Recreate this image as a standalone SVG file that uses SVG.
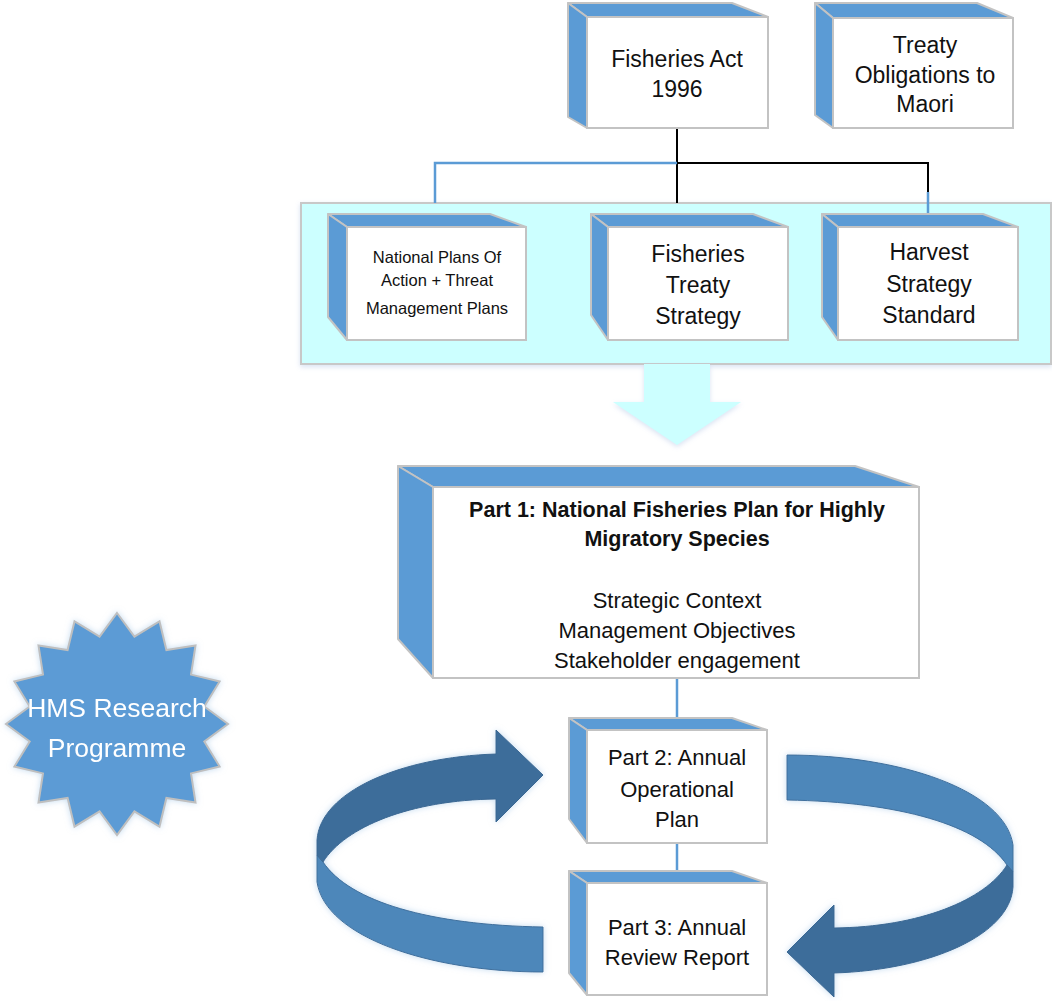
<svg xmlns="http://www.w3.org/2000/svg" xmlns:xlink="http://www.w3.org/1999/xlink" width="1052" height="1001" viewBox="0 0 1052 1001">
<style>
.side{fill:#5B9BD5;stroke:#C3C3C3;stroke-width:2;stroke-linejoin:round}
.front{fill:#FFFFFF;stroke:#C3C3C3;stroke-width:2}
.t{font-family:"Liberation Sans",Arial,sans-serif;fill:#111111;text-anchor:middle}
.s23{font-size:23px}
.s22{font-size:22px}
.s16{font-size:16.5px}
.b{font-weight:bold}
.blue{stroke:#5B9BD5;stroke-width:2.5;fill:none}
.black{stroke:#000000;stroke-width:2;fill:none}
.light{fill:#4D87BA;stroke:#3F6F9C;stroke-width:1}
.dark{fill:#3D6D9A;stroke:#3A6893;stroke-width:1}
</style>
<defs>
<filter id="glow" x="-10%" y="-10%" width="120%" height="120%">
<feGaussianBlur in="SourceAlpha" stdDeviation="3" result="b"/>
<feFlood flood-color="#9DC3E6" flood-opacity="0.6"/>
<feComposite in2="b" operator="in" result="s"/>
<feMerge><feMergeNode in="s"/><feMergeNode in="SourceGraphic"/></feMerge>
</filter>
<filter id="soft" x="-10%" y="-10%" width="120%" height="130%">
<feGaussianBlur in="SourceAlpha" stdDeviation="2.5" result="b"/>
<feOffset dy="2" in="b" result="o"/>
<feFlood flood-color="#B4C7E7" flood-opacity="0.5"/>
<feComposite in2="o" operator="in" result="s"/>
<feMerge><feMergeNode in="s"/><feMergeNode in="SourceGraphic"/></feMerge>
</filter>
<g id="curvedArrow">
<path class="light" d="M787,755 C900,755 1005,790 1013,845 L1013,872 L1007,865 C980,825 900,802 787,800 Z"/>
<path class="dark" d="M1007,865 L1013,872 L1013,887 C1010,935 930,970 834,973 L834,997 L787,952 L834,905 L834,928 C920,927 985,900 1007,865 Z"/>
</g>
</defs>

<rect width="1052" height="1001" fill="#FFFFFF"/>

<g id="band" filter="url(#soft)">
<rect x="301" y="203" width="750" height="161" fill="#CCFFFF" stroke="#C8C8C8" stroke-width="2"/>
</g>

<g id="down-arrow" filter="url(#soft)">
<polygon points="644,364 710,364 710,402 741,402 677,445 613,402 644,402" fill="#CCFFFF"/>
</g>

<g id="connectors">
<path class="black" d="M677,128 V203"/>
<path class="black" d="M677,163 H928 V192"/>
<path class="blue" d="M677,163 H435 V203"/>
<path class="blue" d="M928,192 V228"/>
<path class="blue" d="M677,678 V730"/>
<path class="blue" d="M677,843 V884"/>
</g>

<g id="fisheries-act">
<polygon class="side" points="568,3 732,3 768,17 587,17"/>
<polygon class="side" points="568,3 587,17 587,128 568,117"/>
<rect class="front" x="587" y="17" width="181" height="111"/>
<text class="t s23" x="677" y="67">Fisheries Act</text>
<text class="t s23" x="677" y="97">1996</text>
</g>

<g id="treaty-obligations">
<polygon class="side" points="815,3 977,3 1013,18 833,18"/>
<polygon class="side" points="815,3 833,18 833,128 815,115"/>
<rect class="front" x="833" y="18" width="180" height="110"/>
<text class="t s23" x="925" y="53">Treaty</text>
<text class="t s23" x="925" y="83">Obligations to</text>
<text class="t s23" x="925" y="112">Maori</text>
</g>

<g id="npoa">
<polygon class="side" points="328,214 490,214 526,227 347,227"/>
<polygon class="side" points="328,214 347,227 347,340 328,317"/>
<rect class="front" x="347" y="227" width="179" height="113"/>
<text class="t s16" x="437" y="263">National Plans Of</text>
<text class="t s16" x="437" y="286">Action + Threat</text>
<text class="t s16" x="437" y="314">Management Plans</text>
</g>

<g id="fisheries-treaty-strategy">
<polygon class="side" points="591,214 753,214 788,227 608,227"/>
<polygon class="side" points="591,214 608,227 608,340 591,315"/>
<rect class="front" x="608" y="227" width="180" height="113"/>
<text class="t s23" x="698" y="262">Fisheries</text>
<text class="t s23" x="698" y="293">Treaty</text>
<text class="t s23" x="698" y="324">Strategy</text>
</g>

<g id="harvest-strategy">
<polygon class="side" points="822,214 983,214 1018,227 838,227"/>
<polygon class="side" points="822,214 838,227 838,340 822,317"/>
<rect class="front" x="838" y="227" width="180" height="113"/>
<text class="t s23" x="929" y="260">Harvest</text>
<text class="t s23" x="929" y="292">Strategy</text>
<text class="t s23" x="929" y="323">Standard</text>
</g>

<g id="part1">
<polygon class="side" points="398,466 855,466 919,487 433,487"/>
<polygon class="side" points="398,466 433,487 433,678 398,639"/>
<rect class="front" x="433" y="487" width="486" height="191"/>
<text class="t b" font-size="21.5" x="677" y="517">Part 1: National Fisheries Plan for Highly</text>
<text class="t b" font-size="21.5" x="677" y="546">Migratory Species</text>
<text class="t s22" x="677" y="608">Strategic Context</text>
<text class="t s22" x="677" y="638">Management Objectives</text>
<text class="t s22" x="677" y="668">Stakeholder engagement</text>
</g>

<g id="part2">
<polygon class="side" points="569,718 732,718 767,730 587,730"/>
<polygon class="side" points="569,718 587,730 587,843 569,819"/>
<rect class="front" x="587" y="730" width="180" height="113"/>
<text class="t s22" x="677" y="765">Part 2: Annual</text>
<text class="t s22" x="677" y="797">Operational</text>
<text class="t s22" x="677" y="827">Plan</text>
</g>

<g id="part3">
<polygon class="side" points="569,871 732,871 767,883 587,883"/>
<polygon class="side" points="569,871 587,883 587,995 569,973"/>
<rect class="front" x="587" y="883" width="180" height="112"/>
<text class="t s22" x="677" y="935">Part 3: Annual</text>
<text class="t s22" x="677" y="965">Review Report</text>
</g>

<g id="cycle-arrows" filter="url(#glow)">
<use xlink:href="#curvedArrow" href="#curvedArrow"/>
<use xlink:href="#curvedArrow" href="#curvedArrow" transform="rotate(180 665 863.5)"/>
</g>

<g id="hms-research" filter="url(#glow)">
<polygon points="117,613 134.4,636.7 159.5,621.4 166.4,650 195.5,645.5 191,674.6 219.6,681.5 204.3,706.6 228,724 204.3,741.4 219.6,766.5 191,773.4 195.5,802.5 166.4,798 159.5,826.6 134.4,811.3 117,835 99.6,811.3 74.5,826.6 67.6,798 38.5,802.5 43,773.4 14.4,766.5 29.7,741.4 6,724 29.7,706.6 14.4,681.5 43,674.6 38.5,645.5 67.6,650 74.5,621.4 99.6,636.7" fill="#5B9BD5" stroke="#BFBFBF" stroke-width="2" stroke-linejoin="miter"/>
<text class="t" font-size="26.5" x="117" y="717" style="fill:#FFFFFF">HMS Research</text>
<text class="t" font-size="26.5" x="117" y="757" style="fill:#FFFFFF">Programme</text>
</g>
</svg>
